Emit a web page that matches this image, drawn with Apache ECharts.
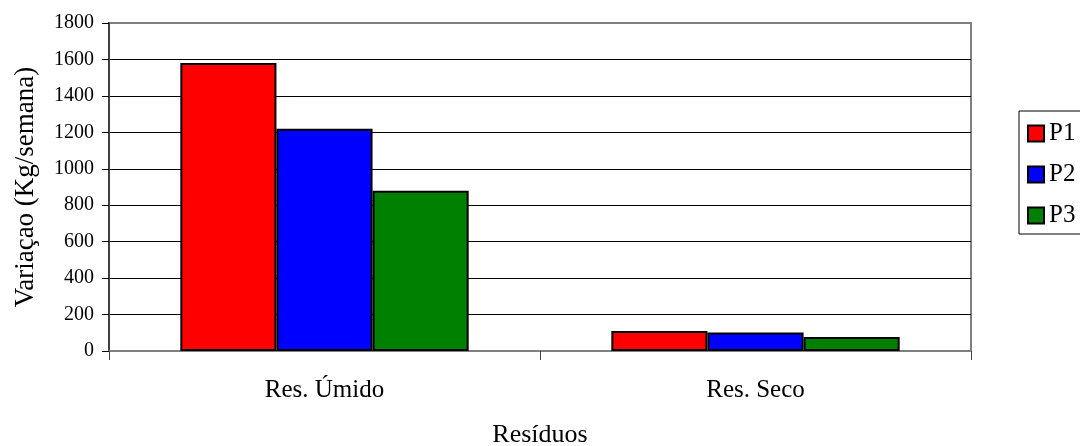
<!DOCTYPE html>
<html>
<head>
<meta charset="utf-8">
<title>Resíduos</title>
<script src="https://cdn.jsdelivr.net/npm/echarts@6/dist/echarts.min.js"></script>
<style>
  html, body { margin: 0; padding: 0; background: #ffffff; }
  #chart { width: 1080px; height: 446px; }
</style>
</head>
<body>
<div id="chart"></div>
<script>
// Weekly variation of waste per point (kg/semana)
const categories = ['Res. Úmido', 'Res. Seco'];
const seriesNames = ['P1', 'P2', 'P3'];
const p1Values = [1580, 110];
const p2Values = [1220, 102];
const p3Values = [880, 77];
const yTicks = { min: 0, max: 1800, interval: 200 };

const seriesColors = ['#ff0000', '#0000ff', '#008000'];
const seriesValues = [p1Values, p2Values, p3Values];
const serif = '"Liberation Serif", "Times New Roman", serif';

const chart = echarts.init(document.getElementById('chart'), null, { renderer: 'canvas' });

chart.setOption({
  animation: false,
  backgroundColor: '#ffffff',
  grid: {
    left: 109, right: 109, top: 23, bottom: 95,
    outerBoundsMode: 'none',
    containLabel: false,
    show: true, borderColor: '#808080', borderWidth: 2, backgroundColor: 'transparent'
  },
  legend: {
    orient: 'vertical',
    left: 1019, top: 111,
    padding: [10, 40, 6, 8],
    itemGap: 16,
    itemWidth: 16, itemHeight: 16,
    icon: 'rect',
    borderColor: '#000000', borderWidth: 1,
    backgroundColor: '#ffffff',
    data: seriesNames,
    textStyle: { fontFamily: serif, fontSize: 25, color: '#000' },
    itemStyle: { borderColor: '#000', borderWidth: 2 }
  },
  xAxis: {
    type: 'category',
    data: categories,
    name: 'Resíduos',
    nameLocation: 'middle',
    nameGap: 71,
    nameTextStyle: { fontFamily: serif, fontSize: 26, color: '#000' },
    axisLine: { lineStyle: { color: '#808080', width: 2 } },
    axisTick: { show: true, length: 9, lineStyle: { color: '#404040', width: 1 } },
    axisLabel: { fontFamily: serif, fontSize: 25, color: '#000', margin: 27 },
    splitLine: { show: false }
  },
  yAxis: {
    type: 'value',
    min: yTicks.min, max: yTicks.max, interval: yTicks.interval,
    name: 'Variaçao (Kg/semana)',
    nameLocation: 'middle',
    nameGap: 70,
    nameTextStyle: { fontFamily: serif, fontSize: 27, color: '#000' },
    axisLine: { show: true, lineStyle: { color: '#404040', width: 2 } },
    axisTick: { show: true, length: 7, lineStyle: { color: '#000', width: 1 } },
    axisLabel: { fontFamily: serif, fontSize: 20, color: '#000', margin: 15, formatter: (v) => String(v) },
    splitLine: { show: true, showMaxLine: false, lineStyle: { color: '#000', width: 1 } }
  },
  series: seriesNames.map((name, i) => ({
    name: name,
    type: 'bar',
    data: seriesValues[i],
    barWidth: '22.3%',
    barGap: '0%',
    itemStyle: { color: seriesColors[i], borderColor: '#000', borderWidth: 2 }
  }))
});
</script>
</body>
</html>
